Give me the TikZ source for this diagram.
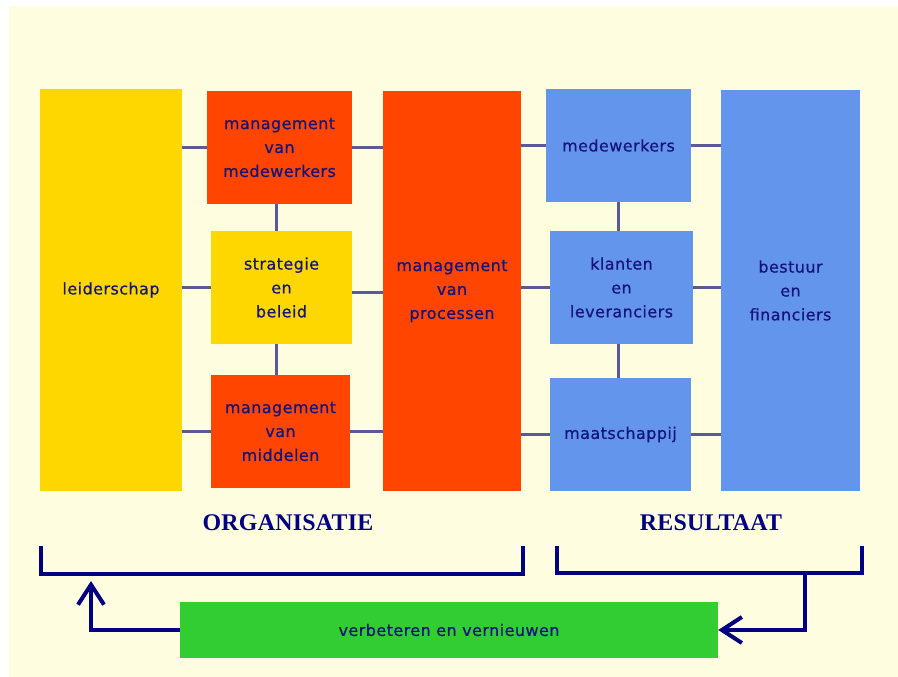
\documentclass[tikz,border=0pt]{standalone}
\usepackage{fontspec}
\usetikzlibrary{arrows.meta,calc}
\newfontfamily\pixfont[LetterSpace=3,FakeBold=0.6]{DejaVu Sans}
\newfontfamily\titlefont[LetterSpace=1]{Liberation Serif}
\definecolor{bgyellow}{HTML}{FFFDE0}
\definecolor{goldbox}{HTML}{FFD700}
\definecolor{redbox}{HTML}{FF4500}
\definecolor{bluebox}{HTML}{6495ED}
\definecolor{greenbox}{HTML}{32CD32}
\definecolor{navyblue}{HTML}{000080}
\definecolor{boxtext}{HTML}{14147A}
\definecolor{connblue}{HTML}{5A5A96}
\begin{document}
\begin{tikzpicture}[x=1bp,y=-1bp,
  box/.style={rectangle, inner sep=0pt, align=center, text=boxtext,
    font=\pixfont\fontsize{16}{24}\selectfont},
  conn/.style={draw=connblue, line width=2.5bp},
  bracket/.style={draw=navyblue, line width=4bp, line join=miter},
  title/.style={text=navyblue, inner sep=0pt, font=\titlefont\bfseries\fontsize{24}{28}\selectfont}]
\useasboundingbox (0,0) rectangle (898,677);
\fill[white] (0,0) rectangle (898,677);
\fill[bgyellow] (9,6) rectangle (898,677);

% boxes
\node[box, fill=goldbox, minimum width=142bp, minimum height=402bp] (lead) at (111,290) {leiderschap};
\node[box, fill=redbox, minimum width=145bp, minimum height=113bp] (mmed) at (279.5,147.5) {management\\van\\medewerkers};
\node[box, fill=goldbox, minimum width=141bp, minimum height=113bp] (strat) at (281.5,287.5) {strategie\\en\\beleid};
\node[box, fill=redbox, minimum width=139bp, minimum height=113bp] (mmid) at (280.5,431.5) {management\\van\\middelen};
\node[box, fill=redbox, minimum width=138bp, minimum height=400bp] (proc) at (452,291) {management\\van\\processen};
\node[box, fill=bluebox, minimum width=145bp, minimum height=113bp] (med) at (618.5,145.5) {medewerkers};
\node[box, fill=bluebox, minimum width=143bp, minimum height=113bp] (klant) at (621.5,287.5) {klanten\\en\\leveranciers};
\node[box, fill=bluebox, minimum width=141bp, minimum height=113bp] (maat) at (620.5,434.5) {maatschappij};
\node[box, fill=bluebox, minimum width=139bp, minimum height=401bp] (best) at (790.5,290.5) {bestuur\\en\\financiers};
\node[box, fill=greenbox, minimum width=538bp, minimum height=56bp] (green) at (449,630) {verbeteren en vernieuwen};

% connectors
\draw[conn] (lead.east |- mmed.west) -- (mmed.west);
\draw[conn] (lead.east |- strat.west) -- (strat.west);
\draw[conn] (lead.east |- mmid.west) -- (mmid.west);
\draw[conn] (mmed.east) -- (mmed.east -| proc.west);
\draw[conn] ([yshift=-5bp]strat.east) -- ([yshift=-5bp]strat.east -| proc.west);
\draw[conn] (mmid.east) -- (mmid.east -| proc.west);
\draw[conn] ([xshift=-3bp]mmed.south) -- ([xshift=-3bp]mmed.south |- strat.north);
\draw[conn] ([xshift=-5bp]strat.south) -- ([xshift=-5bp]strat.south |- mmid.north);
\draw[conn] (proc.east |- med.west) -- (med.west);
\draw[conn] (proc.east |- klant.west) -- (klant.west);
\draw[conn] (proc.east |- maat.west) -- (maat.west);
\draw[conn] (med.east) -- (med.east -| best.west);
\draw[conn] (klant.east) -- (klant.east -| best.west);
\draw[conn] (maat.east) -- (maat.east -| best.west);
\draw[conn] (med.south) -- (med.south |- klant.north);
\draw[conn] (med.south |- klant.south) -- (med.south |- maat.north);

% titles
\node[title] (org) at (288,522.5) {ORGANISATIE};
\node[title] (res) at (711,522.5) {RESULTAAT};

% brackets
\coordinate (lb1) at (41,546);
\coordinate (lb2) at (41,574);
\coordinate (lb3) at (523,574);
\coordinate (lb4) at (523,546);
\draw[bracket] (lb1) -- (lb2) -- (lb3) -- (lb4);
\coordinate (rb1) at (557,546);
\coordinate (rb2) at (557,573);
\coordinate (rb3) at (862,573);
\coordinate (rb4) at (862,546);
\draw[bracket] (rb1) -- (rb2) -- (rb3) -- (rb4);
\coordinate (stem) at (805,573);
\coordinate (up) at (91,581);

% feedback arrows
\draw[bracket, -{Straight Barb[length=20bp,width=26bp]}] (stem) -- (stem |- green.east) -- (green.east);
\draw[bracket, -{Straight Barb[length=20bp,width=26bp]}] (green.west) -- (green.west -| up) -- (up);
\end{tikzpicture}
\end{document}
